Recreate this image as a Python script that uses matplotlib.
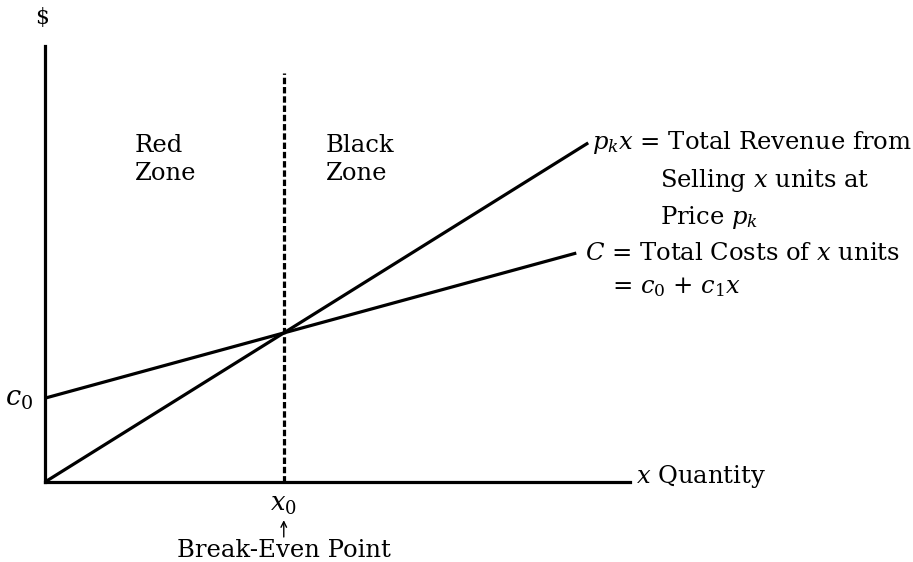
import matplotlib
matplotlib.use("Agg")
import matplotlib.pyplot as plt
import numpy as np

plt.rcParams['font.family'] = ['DejaVu Serif']
plt.rcParams['mathtext.fontset'] = 'dejavuserif'

# Model values (abstract units)
price_pk = 1.0          # revenue per unit
fixed_cost_c0 = 2.25    # fixed cost
unit_cost_c1 = 0.4375   # variable cost per unit
revenue_end_x = 9.1
cost_end_x = 8.9
x_axis_end = 9.8
y_axis_top = 11.7
dashed_top = 10.98
break_even_x0 = fixed_cost_c0 / (price_pk - unit_cost_c1)

W, H = 913, 562
fig = plt.figure(figsize=(W / 100, H / 100), dpi=100)
ox, oy = 45, 482
ax = fig.add_axes([ox / W, (H - oy) / H, 585 / W, 436 / H])
ax.set_xlim(0, x_axis_end)
ax.set_ylim(0, y_axis_top)
for s in ['top', 'right']:
    ax.spines[s].set_visible(False)
for s in ['left', 'bottom']:
    ax.spines[s].set_linewidth(2.3)
ax.set_xticks([])
ax.set_yticks([])
ax.patch.set_alpha(0)

lw = 2.3
xr = np.array([0, revenue_end_x])
ax.plot(xr, price_pk * xr, color='black', lw=lw, solid_capstyle='butt', clip_on=False)
xc = np.array([0, cost_end_x])
ax.plot(xc, fixed_cost_c0 + unit_cost_c1 * xc, color='black', lw=lw, solid_capstyle='butt', clip_on=False)
ax.plot([break_even_x0, break_even_x0], [0, dashed_top], color='black', lw=2.3,
        linestyle=(0, (2.0, 0.9)), clip_on=False)

fs = 17.5
ax.text(-0.05, y_axis_top + 0.45, '$', fontsize=fs - 2, ha='center', va='bottom')
ax.text(1.5, 8.65, 'Red\nZone', fontsize=fs, ha='left', va='center', linespacing=1.25)
ax.text(4.7, 8.65, 'Black\nZone', fontsize=fs, ha='left', va='center', linespacing=1.25)

rev_y = price_pk * revenue_end_x
ax.text(revenue_end_x + 0.07, rev_y, r'$p_k x$ = Total Revenue from', fontsize=fs,
        ha='left', va='center', clip_on=False)
ax.text(revenue_end_x + 1.2, rev_y - 1.0, r'Selling $x$ units at', fontsize=fs,
        ha='left', va='center', clip_on=False)
ax.text(revenue_end_x + 1.2, rev_y - 2.0, r'Price $p_k$', fontsize=fs,
        ha='left', va='center', clip_on=False)
cost_y = fixed_cost_c0 + unit_cost_c1 * cost_end_x
ax.text(cost_end_x + 0.15, cost_y, r'$C$ = Total Costs of $x$ units', fontsize=fs,
        ha='left', va='center', clip_on=False)
ax.text(cost_end_x + 0.6, cost_y - 0.9, r'= $c_0$ + $c_1 x$', fontsize=fs,
        ha='left', va='center', clip_on=False)

ax.text(-0.2, fixed_cost_c0, r'$c_0$', fontsize=fs + 2, ha='right', va='center', clip_on=False)
ax.text(x_axis_end + 0.1, 0.15, r'$x$ Quantity', fontsize=fs, ha='left', va='center', clip_on=False)
ax.text(break_even_x0, -0.6, r'$x_0$', fontsize=fs + 1, ha='center', va='center', clip_on=False)
ax.annotate('', xy=(break_even_x0, -0.95), xytext=(break_even_x0, -1.55),
            arrowprops=dict(arrowstyle='->', lw=1.0, color='black'), annotation_clip=False)
ax.text(break_even_x0, -1.85, 'Break-Even Point', fontsize=fs, ha='center', va='center', clip_on=False)

fig.savefig('out.png', dpi=100, facecolor='white')
